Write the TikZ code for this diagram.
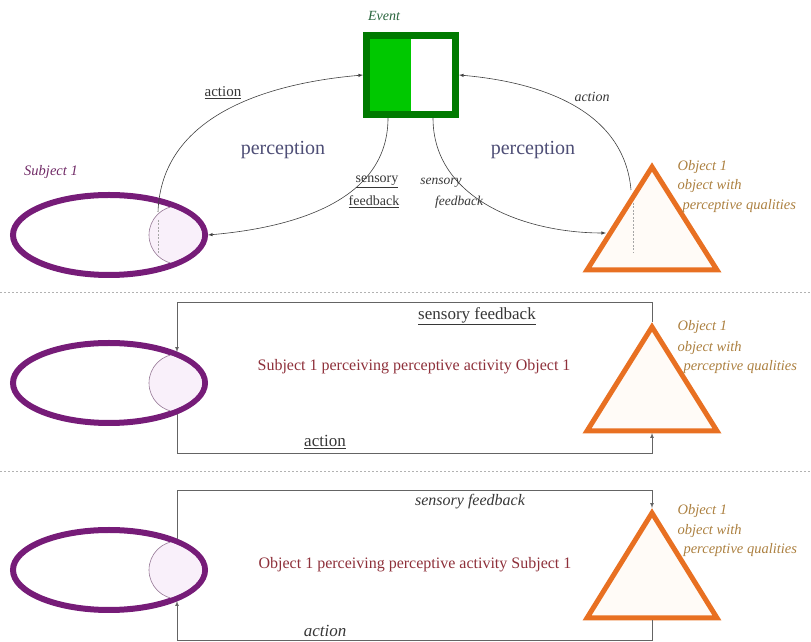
\documentclass[tikz,border=0pt]{standalone}
\usepackage{fontspec}
\setmainfont{Liberation Serif}
\usetikzlibrary{shapes.geometric}
\definecolor{subjpurple}{RGB}{118,28,120}
\definecolor{objorange}{RGB}{232,112,34}
\definecolor{evdark}{RGB}{0,122,0}
\definecolor{evlight}{RGB}{0,200,0}
\definecolor{perccol}{RGB}{78,78,118}
\definecolor{midred}{RGB}{142,48,58}
\definecolor{objtan}{RGB}{172,128,64}
\definecolor{subjlbl}{RGB}{112,42,102}
\definecolor{evlbl}{RGB}{40,100,60}
\definecolor{lblgray}{RGB}{55,55,55}
\definecolor{linkgray}{RGB}{100,100,100}
\definecolor{lensfill}{RGB}{249,240,250}
\definecolor{lensline}{RGB}{150,120,150}
\begin{document}
\begin{tikzpicture}
    [
        x=1pt, y=1pt,
        subj/.style = {draw=subjpurple, shape=ellipse, minimum width=192pt, minimum height=80pt, line width=6pt, inner sep=0pt},
        obj/.style = {draw=objorange, fill=orange!3, line width=5pt, line join=miter},
        lens/.style = {draw=lensline, fill=lensfill, line width=0.6pt},
        eventbox/.style = {draw=evdark, fill=white, shape=rectangle, minimum width=89pt, minimum height=79pt, line width=7pt, inner sep=0pt},
        link/.style = {draw=black!75, line width=0.6pt},
        frame/.style = {draw=linkgray, line width=0.7pt},
        sep/.style = {draw=black!30, line width=0.8pt, dash pattern=on 2pt off 2pt},
        eye/.style = {draw=black!35, line width=1pt, dash pattern=on 2pt off 1.5pt},
        perc/.style = {text=perccol, font=\fontsize{20}{24}\selectfont},
        lbl/.style = {text=lblgray, font=\fontsize{15}{18}\selectfont},
        lblit/.style = {text=lblgray, font=\fontsize{14}{17}\selectfont\itshape},
        objlbl/.style = {text=objtan, anchor=west, font=\fontsize{14.5}{17}\selectfont\itshape},
        midtext/.style = {text=midred, font=\fontsize{16}{19}\selectfont},
    ]

    \useasboundingbox (0,0) rectangle (811,642);

    \draw[sep] (0,350) -- (811,350);
    \draw[sep] (0,171) -- (811,171);

    \node[eventbox] (ev) at (411,567) {};
    \fill[evlight] ([shift={(7pt,7pt)}]ev.south west) rectangle ([yshift=-7pt]ev.north);
    \node[text=evlbl, font=\fontsize{14}{17}\selectfont\itshape] (evlabel) at (384,626) {Event};

    \node[subj] (s1) at (109,407) {};
    \node[subj] (s2) at (109,259) {};
    \node[subj] (s3) at (109,72) {};
    \foreach \n/\y in {s1/407, s2/259, s3/72}
    {
        \begin{scope}
            \clip (\n.center) ellipse [x radius=93, y radius=37];
            \draw[lens] (178,\y) circle [radius=29];
        \end{scope}
    }
    \node[text=subjlbl, font=\fontsize{14.5}{17}\selectfont\itshape] (subjlabel) at (51,470) {Subject 1};

    \coordinate (t1a) at (652,475);
    \coordinate (t1l) at (587,372);
    \coordinate (t1r) at (717,372);
    \coordinate (t2a) at (652,315);
    \coordinate (t2l) at (587,211);
    \coordinate (t2r) at (717,211);
    \coordinate (t3a) at (652,129);
    \coordinate (t3l) at (587,24);
    \coordinate (t3r) at (717,24);
    \draw[obj] (t1a) -- (t1r) -- (t1l) -- cycle;
    \draw[obj] (t2a) -- (t2r) -- (t2l) -- cycle;
    \draw[obj] (t3a) -- (t3r) -- (t3l) -- cycle;

    \draw[eye] (158,422) -- (158,389);
    \draw[eye] (633,439) -- (633,389);

    \coordinate (a1) at (158,430);
    \coordinate (a2) at (631,452);
    \coordinate (f2) at (606,409);
    \draw[link, -latex] (a1) to[out=88, in=185] (ev.west);
    \draw[link, -latex] ([xshift=-23pt]ev.south) to[out=-90, in=5] (s1.east);
    \draw[link, -latex] (a2) to[out=95, in=-5] (ev.east);
    \draw[link, -latex] ([xshift=22pt]ev.south) to[out=-90, in=180] (f2);

    \node[lbl] (act1) at (223,549) {\underline{action}};
    \node[perc] (perc1) at (283,492) {perception};
    \node[perc] (perc2) at (533,492) {perception};
    \node[lbl, font=\fontsize{14}{17}\selectfont] (sens1) at (377,460) {\underline{sensory}};
    \node[lbl, font=\fontsize{14}{17}\selectfont] (feed1) at (374,440) {\underline{feedback}};
    \node[lblit] (act2) at (592,545) {action};
    \node[lblit, font=\fontsize{13.5}{16}\selectfont\itshape] (sens2) at (441,459) {sensory};
    \node[lblit, font=\fontsize{13.5}{16}\selectfont\itshape] (feed2) at (459,440) {feedback};

    \node[objlbl] (o1a) at (674,475) {Object 1};
    \node[objlbl] (o1b) at (674,456) {object with};
    \node[objlbl] (o1c) at (679,436) {perceptive qualities};

    \coordinate (s2top) at (177,290);
    \coordinate (s2bot) at (177,228);
    \coordinate (t2top) at (652,320);
    \coordinate (t2bot) at (652,209);
    \draw[frame, -latex] (t2top) -- ++(0,20) -| (s2top);
    \draw[frame, -latex] (s2bot) -- ++(0,-39) -| (t2bot);
    \node[lbl, font=\fontsize{17}{20}\selectfont] (sens3) at (477,326) {\underline{sensory feedback}};
    \node[lbl, font=\fontsize{17}{20}\selectfont] (act3) at (325,200) {\underline{action}};
    \node[midtext] (mid2) at (414,275) {Subject 1 perceiving perceptive activity Object 1};
    \node[objlbl] (o2a) at (674,315) {Object 1};
    \node[objlbl] (o2b) at (674,294) {object with};
    \node[objlbl] (o2c) at (680,275) {perceptive qualities};

    \coordinate (s3top) at (177,103);
    \coordinate (s3bot) at (177,41);
    \coordinate (t3top) at (652,134);
    \coordinate (t3bot) at (652,22);
    \draw[frame, -latex] (s3top) -- ++(0,49) -| (t3top);
    \draw[frame, -latex] (t3bot) -- ++(0,-20) -| (s3bot);
    \node[lblit, font=\fontsize{16}{19}\selectfont\itshape] (sens4) at (470,140) {sensory feedback};
    \node[lblit, font=\fontsize{17}{20}\selectfont\itshape] (act4) at (325,11) {action};
    \node[midtext] (mid3) at (415,77) {Object 1 perceiving perceptive activity Subject 1};
    \node[objlbl] (o3a) at (674,131) {Object 1};
    \node[objlbl] (o3b) at (674,111) {object with};
    \node[objlbl] (o3c) at (680,92) {perceptive qualities};
\end{tikzpicture}
\end{document}
